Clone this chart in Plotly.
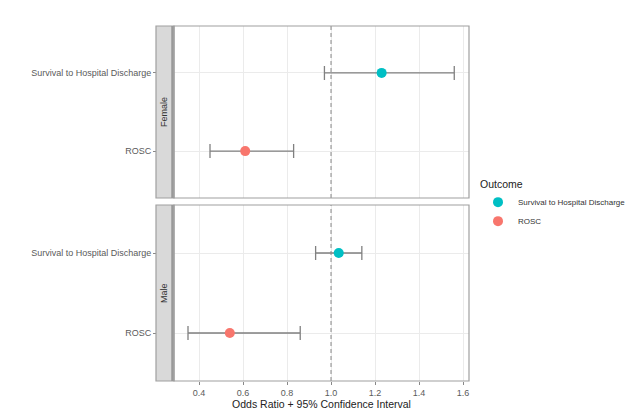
import plotly.graph_objects as go

W, H = 636, 415

outcomes = ["Survival to Hospital Discharge", "ROSC"]
colors = {"Survival to Hospital Discharge": "#00BFC4", "ROSC": "#F8766D"}
sexes = ["Female", "Male"]

# odds ratio, lower CI, upper CI per sex, in outcome order
or_female = [1.23, 0.61]
lo_female = [0.97, 0.45]
hi_female = [1.56, 0.83]
or_male = [1.035, 0.54]
lo_male = [0.93, 0.35]
hi_male = [1.14, 0.86]

x_ticks = [0.4, 0.6, 0.8, 1.0, 1.2, 1.4, 1.6]
x_ticklabels = ["0.4", "0.6", "0.8", "1.0", "1.2", "1.4", "1.6"]

data = {
    "Female": (or_female, lo_female, hi_female),
    "Male": (or_male, lo_male, hi_male),
}

# layout in pixels
px_l, px_strip_l, px_r = 174, 156, 469
panels = {"Female": (26, 198), "Male": (205, 381)}

def fx(p):
    return p / W

def fy(p):
    return 1 - p / H

fig = go.Figure()
FONT = "Liberation Sans, Arial, sans-serif"
GRAY_TXT = "#5a5a5a"

for i, sex in enumerate(sexes):
    xa = "x" if i == 0 else "x2"
    ya = "y" if i == 0 else "y2"
    vals, lo, hi = data[sex]
    for j, oc in enumerate(outcomes):
        fig.add_trace(go.Scatter(
            x=[vals[j]], y=[oc], xaxis=xa, yaxis=ya,
            mode="markers",
            marker=dict(color=colors[oc], size=10, line=dict(width=0)),
            error_x=dict(type="data", symmetric=False,
                         array=[hi[j] - vals[j]], arrayminus=[vals[j] - lo[j]],
                         color="#808080", thickness=1.3, width=7),
            name=oc, legendgroup=oc, showlegend=(i == 0),
        ))

layout_axes = {}
for i, sex in enumerate(sexes):
    top, bot = panels[sex]
    xk = "xaxis" if i == 0 else "xaxis2"
    yk = "yaxis" if i == 0 else "yaxis2"
    ya = "y" if i == 0 else "y2"
    layout_axes[xk] = dict(
        domain=[fx(px_l), fx(px_r)], anchor=ya,
        range=[0.2864, 1.627], tickvals=x_ticks, ticktext=x_ticklabels,
        showticklabels=(i == 1), ticks="outside" if i == 1 else "",
        ticklen=3, tickcolor="#888888",
        tickfont=dict(size=9, color=GRAY_TXT, family=FONT),
        showgrid=True, gridcolor="#EBEBEB", gridwidth=1,
        zeroline=False, showline=False,
        title=dict(text="Odds Ratio + 95% Confidence Interval",
                   font=dict(size=10.5, color="#222222", family=FONT), standoff=3) if i == 1 else None,
        matches="x" if i == 1 else None,
    )
    layout_axes[yk] = dict(
        domain=[fy(bot), fy(top)], anchor="free", position=fx(px_strip_l),
        type="category", categoryorder="array", categoryarray=["ROSC", "Survival to Hospital Discharge"],
        range=[-0.6, 1.6], ticks="outside", ticklen=3, tickcolor="#888888",
        tickfont=dict(size=9, color=GRAY_TXT, family=FONT),
        showgrid=True, gridcolor="#EBEBEB", gridwidth=1,
        zeroline=False, showline=False,
    )

shapes = []
annotations = []
for i, sex in enumerate(sexes):
    top, bot = panels[sex]
    xa = "x" if i == 0 else "x2"
    yd = "y domain" if i == 0 else "y2 domain"
    # reference line at OR = 1
    shapes.append(dict(type="line", xref=xa, yref=yd, x0=1.0, x1=1.0, y0=0, y1=1,
                       line=dict(color="#888888", width=1, dash="4px,3px"), layer="above"))
    # panel border
    shapes.append(dict(type="rect", xref="paper", yref="paper",
                       x0=fx(px_l), x1=fx(px_r), y0=fy(bot), y1=fy(top),
                       line=dict(color="#a0a0a0", width=1.2), fillcolor="rgba(0,0,0,0)", layer="above"))
    # strip
    shapes.append(dict(type="rect", xref="paper", yref="paper",
                       x0=fx(px_strip_l), x1=fx(px_l), y0=fy(bot), y1=fy(top),
                       line=dict(color="#a0a0a0", width=1.2), fillcolor="#D9D9D9", layer="above"))
    shapes.append(dict(type="line", xref="paper", yref="paper",
                       x0=fx(px_l - 1.5), x1=fx(px_l - 1.5), y0=fy(bot), y1=fy(top),
                       line=dict(color="#999999", width=2.5), layer="above"))
    annotations.append(dict(text=sex, xref="paper", yref="paper",
                            x=fx(164), y=fy((top + bot) / 2), showarrow=False,
                            textangle=-90, font=dict(size=9, color="#333333", family=FONT),
                            xanchor="center", yanchor="middle"))

fig.update_layout(
    width=W, height=H,
    margin=dict(l=0, r=0, t=0, b=0),
    paper_bgcolor="white", plot_bgcolor="white",
    font=dict(family=FONT),
    shapes=shapes, annotations=annotations,
    legend=dict(
        title=dict(text="Outcome", font=dict(size=10.5, color="#222222", family=FONT)),
        font=dict(size=8, color="#333333", family=FONT),
        x=fx(478), y=fy(174), xanchor="left", yanchor="top",
        bgcolor="rgba(0,0,0,0)", itemwidth=30, tracegroupgap=0,
    ),
    **layout_axes,
)

fig.write_html("out.html")
